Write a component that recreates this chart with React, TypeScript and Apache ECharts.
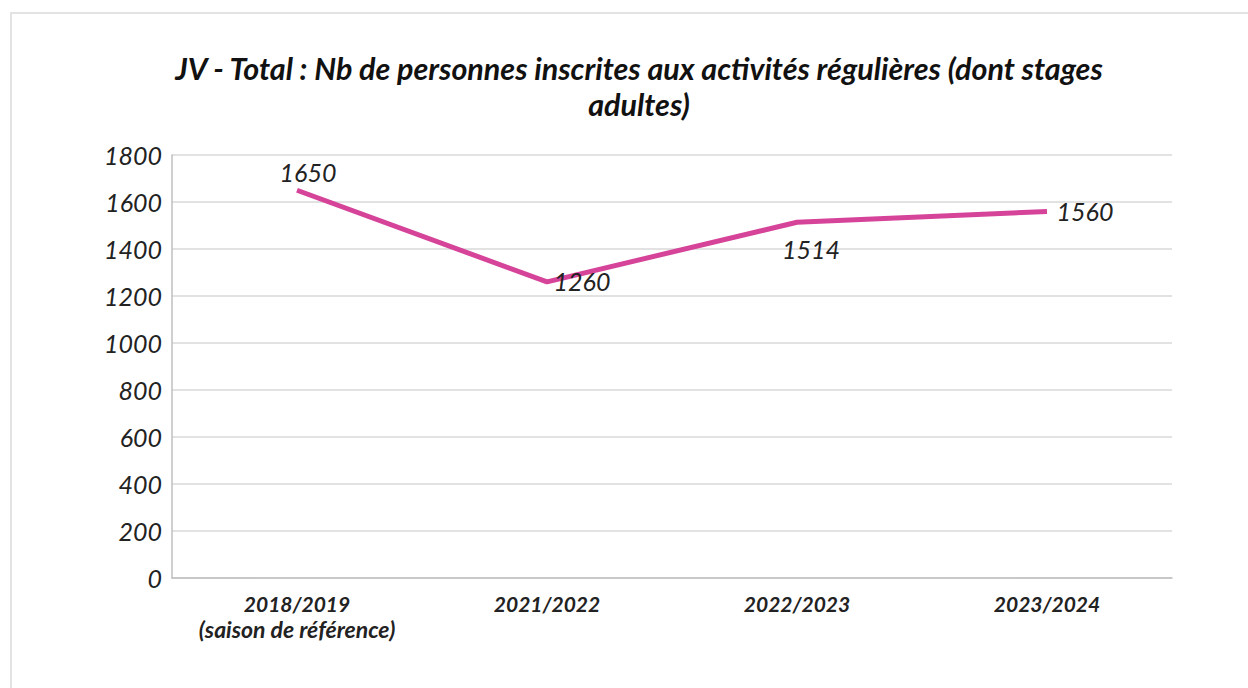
import React, { useEffect, useRef } from "react";
import * as echarts from "echarts";

const categories = ["2018/2019\n(saison de référence)", "2021/2022", "2022/2023", "2023/2024"];
const values = [1650, 1260, 1514, 1560];
const labelOffsets = [[11, 0], [35, 17], [14, 45], [38, 18]];
const titleText = "JV - Total : Nb de personnes inscrites aux activités régulières (dont stages\nadultes)";

export default function App() {
  const ref = useRef<HTMLDivElement>(null);
  useEffect(() => {
    const chart = echarts.init(ref.current!, null, { renderer: "svg" });
    const font = "Lato, 'Open Sans', sans-serif";
    chart.setOption({
      animation: false,
      backgroundColor: "#ffffff",
      title: {
        text: titleText,
        left: 634,
        top: 45,
        textAlign: "center",
        textStyle: {
          fontFamily: font,
          fontStyle: "italic",
          fontWeight: "bold",
          fontSize: 30.5,
          lineHeight: 36,
          color: "#111",
        },
      },
      graphic: [
        {
          type: "rect",
          shape: { x: 11, y: 13, width: 1300, height: 800 },
          style: { fill: "none", stroke: "#e3e3e3", lineWidth: 2 },
          z: -1,
        },
      ],
      grid: { left: 172, right: 76, top: 155, bottom: 110 },
      xAxis: {
        type: "category",
        data: categories,
        boundaryGap: true,
        axisLine: { lineStyle: { color: "#bfbfbf", width: 1.5 } },
        axisTick: { show: false },
        axisLabel: {
          interval: 0,
          hideOverlap: false,
          margin: 12,
          fontFamily: font,
          fontStyle: "italic",
          fontWeight: "bold",
          fontSize: 21,
          lineHeight: 26,
          color: "#222",
          formatter: (v: string) => {
            const parts = v.split("\n");
            return parts.length > 1 ? parts[0] + "\n{s|" + parts[1] + "}" : v;
          },
          rich: {
            s: {
              fontFamily: font,
              fontStyle: "italic",
              fontWeight: "bold",
              fontSize: 23,
              lineHeight: 26,
              color: "#222",
            },
          },
        },
      },
      yAxis: {
        type: "value",
        min: 0,
        max: 1800,
        interval: 200,
        axisLine: { show: true, lineStyle: { color: "#bfbfbf", width: 1.5 } },
        axisTick: { show: false },
        splitLine: { lineStyle: { color: "#d9d9d9", width: 1.5 } },
        axisLabel: {
          margin: 10,
          fontFamily: font,
          fontStyle: "italic",
          fontSize: 25,
          color: "#222",
          formatter: (v: number) => String(v),
        },
      },
      series: [
        {
          type: "line",
          data: values.map((v, i) => ({
            value: v,
            label: { offset: labelOffsets[i] },
          })),
          symbol: "circle",
          symbolSize: 1,
          showSymbol: true,
          itemStyle: { color: "rgba(0,0,0,0)" },
          lineStyle: { color: "#d6449a", width: 5 },
          label: {
            show: true,
            position: "top",
            distance: 5,
            fontFamily: font,
            fontStyle: "italic",
            fontSize: 25,
            color: "#222",
          },
        },
      ],
    });
    return () => chart.dispose();
  }, []);
  return (
    <div
      ref={ref}
      style={{ position: "fixed", left: 0, top: 0, width: 1248, height: 688 }}
    />
  );
}
